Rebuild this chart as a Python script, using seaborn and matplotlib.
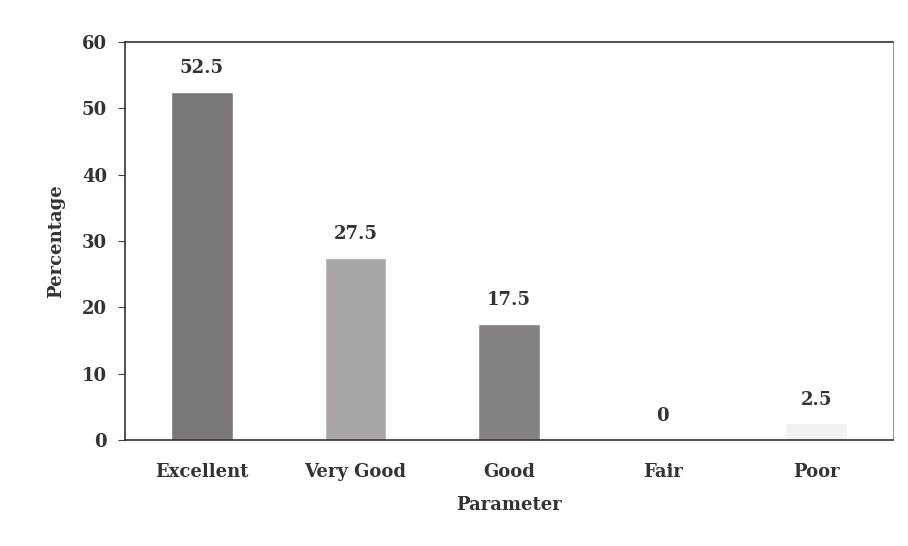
import pandas as pd
import matplotlib.pyplot as plt
import seaborn as sns

# valeurs
categories = ["Excellent", "Very Good", "Good", "Fair", "Poor"]
percentages = [52.5, 27.5, 17.5, 0, 2.5]
bar_colors = ["#7b7579", "#aba4a9", "#878085", "#8a8388", "#f3f1f2"]

df = pd.DataFrame({"Parameter": categories, "Percentage": percentages})

sns.set_style("white")
plt.rcParams['font.family'] = ['DejaVu Serif']

fig = plt.figure(figsize=(9.08, 5.46), dpi=100)
ax = fig.add_axes([125 / 908, 1 - 440 / 546, 768 / 908, 398 / 546])

sns.barplot(data=df, x="Parameter", y="Percentage", hue="Parameter",
            palette=bar_colors, width=0.4, legend=False, ax=ax)

# étiquettes au-dessus des barres
for i, v in enumerate(percentages):
    lbl = f"{v:g}"
    ax.text(i, v + 2.2, lbl, ha="center", va="bottom",
            fontsize=13, fontweight="bold", color="#333333")

ax.set_ylim(0, 60)
ax.set_yticks(range(0, 61, 10))
ax.set_xlim(-0.5, 4.5)
ax.tick_params(axis="y", left=True, length=5, width=0.8, color="#444444",
               labelsize=13, pad=8, labelcolor="#333333")
ax.tick_params(axis="x", bottom=False, labelsize=13, pad=13, labelcolor="#333333")
for lbl in ax.get_xticklabels() + ax.get_yticklabels():
    lbl.set_fontweight("bold")

ax.set_xlabel("Parameter", fontsize=13, fontweight="bold", color="#333333", labelpad=11)
ax.set_ylabel("Percentage", fontsize=13, fontweight="bold", color="#333333", labelpad=12)

for side in ["left", "bottom", "top"]:
    ax.spines[side].set_color("#333333")
    ax.spines[side].set_linewidth(1.2)
ax.spines["right"].set_color("#999999")
ax.spines["right"].set_linewidth(0.8)

fig.savefig("out.png", dpi=100)
